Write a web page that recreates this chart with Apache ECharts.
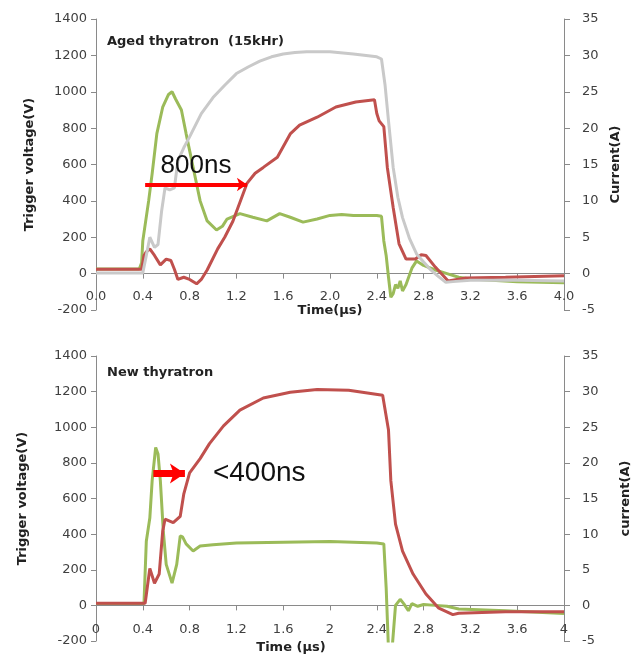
<!DOCTYPE html>
<html>
<head>
<meta charset="utf-8">
<script src="https://cdn.jsdelivr.net/npm/echarts@6/dist/echarts.min.js"></script>
<style>
html,body{margin:0;padding:0;background:#fff;}
#c{width:636px;height:654px;}
</style>
</head>
<body>
<div id="c"></div>
<script>
// ---------- Tick labels ----------
var topXLabels = ['0.0','0.4','0.8','1.2','1.6','2.0','2.4','2.8','3.2','3.6','4.0'];
var bottomXLabels = ['0','0.4','0.8','1.2','1.6','2','2.4','2.8','3.2','3.6','4'];

// ---------- Top chart: Aged thyratron (15kHr) ----------
// Trigger voltage (V, left axis) - green
var agedTrigTime = [0,0.37,0.39,0.40,0.45,0.48,0.52,0.57,0.62,0.65,0.68,0.73,0.77,0.83,0.89,0.95,1.03,1.08,1.12,1.23,1.34,1.46,1.57,1.66,1.77,1.89,2.0,2.1,2.2,2.3,2.4,2.44,2.46,2.48,2.50,2.52,2.54,2.56,2.58,2.60,2.62,2.65,2.70,2.74,2.80,2.90,3.0,3.1,3.2,3.6,4.0];
var agedTrigV    = [25,25,60,180,400,550,770,915,985,1000,960,900,770,585,400,290,240,260,300,330,310,290,330,310,283,300,320,325,320,320,320,315,180,100,-20,-130,-110,-60,-80,-40,-95,-60,30,70,45,20,0,-20,-30,-45,-50];
// Current (A, right axis) - red
var agedCurTime = [0,0.39,0.41,0.43,0.46,0.50,0.55,0.60,0.64,0.67,0.70,0.75,0.80,0.86,0.90,0.95,1.04,1.10,1.17,1.29,1.36,1.43,1.55,1.66,1.74,1.89,2.05,2.22,2.38,2.40,2.42,2.46,2.49,2.54,2.59,2.65,2.73,2.78,2.82,2.90,3.01,3.16,3.5,4.0];
var agedCurA    = [0.6,0.6,2.5,3.0,3.4,2.5,1.2,2.0,1.8,0.6,-0.8,-0.5,-0.8,-1.4,-0.8,0.5,3.4,5.0,7.2,12.4,13.8,14.6,16.0,19.2,20.4,21.5,22.9,23.6,23.9,22.0,21.0,20.2,14.6,9.1,4.1,2.0,2.0,2.6,2.5,0.9,-1.0,-0.6,-0.5,-0.3];
// Reference trace (A, right axis) - gray
var agedRefTime = [0,0.40,0.43,0.46,0.50,0.53,0.56,0.59,0.63,0.67,0.70,0.75,0.80,0.90,1.0,1.1,1.2,1.3,1.4,1.5,1.6,1.7,1.8,2.0,2.2,2.4,2.44,2.47,2.50,2.54,2.58,2.62,2.68,2.74,2.80,2.85,2.92,2.99,3.05,3.2,3.6,4.0];
var agedRefA    = [0.1,0.1,2.5,5.0,3.6,4.0,8.5,11.8,11.5,11.8,15.5,17.3,18.8,22.0,24.2,25.9,27.5,28.4,29.2,29.8,30.2,30.4,30.5,30.5,30.2,29.8,29.5,26.0,21.0,14.6,10.5,7.7,4.8,2.7,1.6,0.7,-0.3,-1.2,-1.1,-0.9,-0.9,-1.0];

// ---------- Bottom chart: New thyratron ----------
var newTrigTime = [0,0.41,0.43,0.46,0.48,0.51,0.53,0.55,0.575,0.60,0.65,0.69,0.72,0.74,0.77,0.83,0.89,1.0,1.2,1.6,2.0,2.4,2.46,2.48,2.50,2.53,2.56,2.60,2.63,2.67,2.70,2.75,2.8,2.9,3.0,3.1,3.5,4.0];
var newTrigV    = [10,10,360,490,700,887,850,700,418,230,125,230,390,385,345,305,333,340,350,355,358,350,345,100,-250,-250,0,34,10,-30,10,-5,5,0,-5,-20,-30,-45];
var newCurTime = [0,0.42,0.43,0.46,0.50,0.54,0.57,0.59,0.66,0.72,0.75,0.80,0.89,0.97,1.09,1.23,1.43,1.66,1.89,2.16,2.45,2.50,2.52,2.56,2.62,2.71,2.82,2.93,3.05,3.1,3.5,4.0];
var newCurA    = [0.3,0.3,1.5,5.2,3.1,4.4,10.4,12.1,11.6,12.5,15.6,18.6,20.6,22.7,25.2,27.4,29.1,29.9,30.3,30.2,29.5,24.6,17.5,11.4,7.6,4.4,1.6,-0.4,-1.3,-1.1,-0.9,-0.9];

// ---------- Annotations ----------
var agedDelay = {label:'800ns', from:0.42, to:1.29, level:490};   // level in V
var newDelay  = {label:'<400ns', from:0.49, to:0.76, level:18.5}; // level in A

function pairs(t, v){ return t.map(function(x,i){ return [x, v[i]]; }); }

var GREEN = '#9BBB59', RED = '#C0504D', GRAY = '#C9C9C9';
var AXIS = '#8a8a8a', LBL = '#404040', FONT = 'DejaVu Sans';

function xAx(gridIndex, labels, nameGap, namePad, margin){
  return {
    type:'value', gridIndex:gridIndex, min:0, max:4, interval:0.4,
    name: gridIndex===0 ? 'Time(\u00b5s)' : 'Time (\u00b5s)',
    nameLocation:'middle', nameGap:nameGap, nameMoveOverlap:false,
    nameTextStyle:{fontFamily:FONT, fontSize:13, fontWeight:'bold', color:'#222', padding:namePad},
    axisLine:{show:true, onZero:true, lineStyle:{color:AXIS, width:1}},
    axisTick:{show:true, inside:false, length:5, lineStyle:{color:AXIS}},
    splitLine:{show:false},
    axisLabel:{fontFamily:FONT, fontSize:13, color:LBL, margin:margin, showMinLabel:true, showMaxLabel:true,
      formatter:function(v){ return labels[Math.round(v/0.4)]; }}
  };
}
function yLeft(gridIndex, nameGap){
  return {
    type:'value', gridIndex:gridIndex, position:'left', min:-200, max:1400, interval:200,
    name:'Trigger voltage(V)', nameLocation:'middle', nameGap:nameGap, nameRotate:90,
    nameTextStyle:{fontFamily:FONT, fontSize:13, fontWeight:'bold', color:'#222'},
    axisLine:{show:true, onZero:false, lineStyle:{color:AXIS, width:1}},
    axisTick:{show:true, length:5, lineStyle:{color:AXIS}},
    splitLine:{show:false},
    axisLabel:{fontFamily:FONT, fontSize:13, color:LBL, margin:9, formatter:function(v){ return String(v); }}
  };
}
function yRight(gridIndex, name, nameGap){
  return {
    type:'value', gridIndex:gridIndex, position:'right', min:-5, max:35, interval:5,
    name:name, nameLocation:'middle', nameGap:nameGap, nameRotate:90,
    nameTextStyle:{fontFamily:FONT, fontSize:13, fontWeight:'bold', color:'#222'},
    axisLine:{show:true, onZero:false, lineStyle:{color:AXIS, width:1}},
    axisTick:{show:true, length:6, lineStyle:{color:AXIS}},
    splitLine:{show:false},
    axisLabel:{fontFamily:FONT, fontSize:13, color:LBL, margin:18, formatter:function(v){ return String(v); }}
  };
}
function lineS(xi, yi, data, color, z){
  return {type:'line', xAxisIndex:xi, yAxisIndex:yi, data:data, showSymbol:false, symbol:'none',
    lineStyle:{color:color, width:3}, itemStyle:{color:color}, z:z, clip:true, silent:true};
}
function arrow(d, width, head, pos, dist, fs){
  return {
    silent:true, symbol:['none','arrow'], symbolSize:head,
    lineStyle:{color:'#ff0000', width:width, type:'solid'},
    label:{show:true, position:pos, distance:dist, formatter:d.label, fontFamily:'Liberation Sans', fontSize:fs, color:'#111'},
    emphasis:{disabled:true},
    data:[[{coord:[d.from, d.level]}, {coord:[d.to, d.level]}]]
  };
}

var sAgedTrig = lineS(0,0,pairs(agedTrigTime, agedTrigV), GREEN, 2);
sAgedTrig.markLine = arrow(agedDelay, 4, 10, 'middle', 6, 26);
var sAgedCur = lineS(0,1,pairs(agedCurTime, agedCurA), RED, 3);
var sAgedRef = lineS(0,1,pairs(agedRefTime, agedRefA), GRAY, 4);
var sNewTrig = lineS(1,2,pairs(newTrigTime, newTrigV), GREEN, 2);
var sNewCur = lineS(1,3,pairs(newCurTime, newCurA), RED, 3);
sNewCur.markLine = arrow(newDelay, 7, 15, 'end', 28, 28);

var chart = echarts.init(document.getElementById('c'), null, {renderer:'canvas'});
chart.setOption({
  animation:false,
  backgroundColor:'#fff',
  title:[
    {text:'Aged thyratron  (15kHr)', left:107, top:35, padding:0, textStyle:{fontFamily:FONT, fontSize:13, fontWeight:'bold', color:'#222'}},
    {text:'New thyratron', left:107, top:366, padding:0, textStyle:{fontFamily:FONT, fontSize:13, fontWeight:'bold', color:'#222'}}
  ],
  grid:[
    {left:96, right:72, top:19, height:291, outerBoundsMode:'none', containLabel:false},
    {left:96, right:72, top:356, height:285, outerBoundsMode:'none', containLabel:false}
  ],
  xAxis:[ xAx(0, topXLabels, -6, [0,0,0,0], -20), xAx(1, bottomXLabels, 0, [0,78,0,0], -18) ],
  yAxis:[ yLeft(0, 60), yRight(0, 'Current(A)', 43), yLeft(1, 67), yRight(1, 'current(A)', 55) ],
  series:[ sAgedTrig, sAgedCur, sAgedRef, sNewTrig, sNewCur ]
});
</script>
</body>
</html>
